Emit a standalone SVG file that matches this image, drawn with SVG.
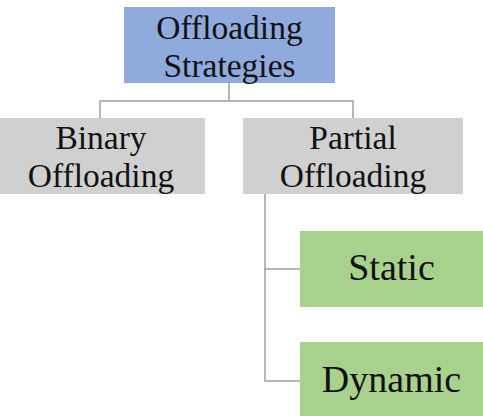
<svg xmlns="http://www.w3.org/2000/svg" width="483" height="416" viewBox="0 0 483 416">
<style>
  .t { font-family: "Liberation Serif", "Times New Roman", serif; font-size: 38px; fill: #111; text-anchor: middle; }
  .t2 { font-size: 33.5px; }
  .c { stroke: #a0a0a0; stroke-width: 1.5; fill: none; }
  .blue { fill: #8faadc; }
  .gray { fill: #d0d0d0; }
  .green { fill: #a9d18e; }
</style>
<rect width="483" height="416" fill="#ffffff"/>
<g id="connectors">
  <path class="c" d="M229 83 V101 M100 118 V101 H353 V118"/>
  <path class="c" d="M265 194 V381 H300 M265 269 H300"/>
</g>
<g id="root">
  <rect class="blue" x="124" y="7" width="211" height="76"/>
  <text class="t t2" x="229.5" y="39">Offloading</text>
  <text class="t t2" x="229.5" y="76.5">Strategies</text>
</g>
<g id="binary">
  <rect class="gray" x="0" y="118" width="205" height="76"/>
  <text class="t t2" x="101" y="149">Binary</text>
  <text class="t t2" x="101" y="186.5">Offloading</text>
</g>
<g id="partial">
  <rect class="gray" x="243" y="118" width="220" height="76"/>
  <text class="t t2" x="353" y="149">Partial</text>
  <text class="t t2" x="353" y="186.5">Offloading</text>
</g>
<g id="static">
  <rect class="green" x="300" y="231" width="183" height="76"/>
  <text class="t" x="391.5" y="280">Static</text>
</g>
<g id="dynamic">
  <rect class="green" x="300" y="342" width="183" height="74"/>
  <text class="t" x="391.5" y="392">Dynamic</text>
</g>
</svg>
